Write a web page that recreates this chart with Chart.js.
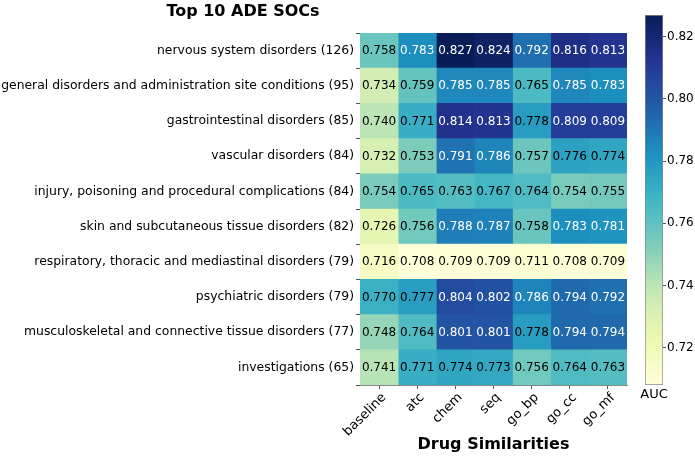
<!DOCTYPE html>
<html><head><meta charset="utf-8">
<script src="https://cdn.jsdelivr.net/npm/chart.js@4"></script>
<style>
html,body{margin:0;padding:0;background:#fff;}
#wrap{position:relative;width:695px;height:456px;}
#main{position:absolute;left:0;top:0;}
#cbar{position:absolute;left:630px;top:0;}
</style></head><body>
<div id="wrap">
<canvas id="main" width="695" height="456"></canvas>
<canvas id="cbar" width="65" height="456"></canvas>
</div>
<script>
const rows = [
  "nervous system disorders (126)",
  "general disorders and administration site conditions (95)",
  "gastrointestinal disorders (85)",
  "vascular disorders (84)",
  "injury, poisoning and procedural complications (84)",
  "skin and subcutaneous tissue disorders (82)",
  "respiratory, thoracic and mediastinal disorders (79)",
  "psychiatric disorders (79)",
  "musculoskeletal and connective tissue disorders (77)",
  "investigations (65)"
];
const columns = ["baseline","atc","chem","seq","go_bp","go_cc","go_mf"];
const baseline = [0.758,0.734,0.740,0.732,0.754,0.726,0.716,0.770,0.748,0.741];
const atc      = [0.783,0.759,0.771,0.753,0.765,0.756,0.708,0.777,0.764,0.771];
const chem     = [0.827,0.785,0.814,0.791,0.763,0.788,0.709,0.804,0.801,0.774];
const seq      = [0.824,0.785,0.813,0.786,0.767,0.787,0.709,0.802,0.801,0.773];
const go_bp    = [0.792,0.765,0.778,0.757,0.764,0.758,0.711,0.786,0.778,0.756];
const go_cc    = [0.816,0.785,0.809,0.776,0.754,0.783,0.708,0.794,0.794,0.764];
const go_mf    = [0.813,0.783,0.809,0.774,0.755,0.781,0.709,0.792,0.794,0.763];
const colorbarTicks = [0.72,0.74,0.76,0.78,0.80,0.82];

const series = [baseline, atc, chem, seq, go_bp, go_cc, go_mf];
const allVals = series.flat();
const vmin = Math.min(...allVals), vmax = Math.max(...allVals);

const YLGNBU = ["#ffffd9","#edf8b1","#c7e9b4","#7fcdbb","#41b6c4","#1d91c0","#225ea8","#253494","#081d58"];
function hex2rgb(h){return [parseInt(h.substr(1,2),16),parseInt(h.substr(3,2),16),parseInt(h.substr(5,2),16)];}
const STOPS = YLGNBU.map(hex2rgb);
function cmap(v){
  let t = (v - vmin)/(vmax - vmin); t = Math.max(0, Math.min(1, t));
  const p = t*(STOPS.length-1); const i = Math.min(Math.floor(p), STOPS.length-2); const f = p - i;
  const a = STOPS[i], b = STOPS[i+1];
  return `rgb(${Math.round(a[0]+(b[0]-a[0])*f)},${Math.round(a[1]+(b[1]-a[1])*f)},${Math.round(a[2]+(b[2]-a[2])*f)})`;
}

const FONT = "'DejaVu Sans', sans-serif";
Chart.defaults.font.family = FONT;
Chart.defaults.color = "#000";

const cellText = {
  id: 'cellText',
  afterDatasetsDraw(chart){
    const ctx = chart.ctx;
    ctx.save();
    ctx.font = "12px " + FONT;
    ctx.textAlign = 'center'; ctx.textBaseline = 'middle';
    chart.data.datasets.forEach((ds, di) => {
      const meta = chart.getDatasetMeta(di);
      meta.data.forEach((el, ri) => {
        const v = series[di][ri];
        const t = (v - vmin)/(vmax - vmin);
        ctx.fillStyle = t > 0.6 ? '#fff' : '#000';
        const c = el.getCenterPoint();
        ctx.fillText(v.toFixed(3), c.x, c.y + 0.5);
      });
    });
    ctx.font = "bold 16px " + FONT;
    ctx.fillStyle = '#000';
    ctx.fillText("Top 10 ADE SOCs", 243, 12);
    ctx.restore();
  }
};

new Chart(document.getElementById('main'), {
  type: 'bar',
  data: {
    labels: rows,
    datasets: series.map((s, i) => ({
      label: columns[i],
      data: s.map(() => 1),
      backgroundColor: s.map(cmap),
      borderWidth: 0,
      barPercentage: 1,
      categoryPercentage: 1
    }))
  },
  options: {
    indexAxis: 'y',
    responsive: false,
    animation: false,
    layout: { padding: { top: 33, right: 68, left: 0, bottom: 0 } },
    plugins: { legend: { display: false }, tooltip: { enabled: false } },
    scales: {
      x: {
        type: 'linear', stacked: true, min: 0, max: columns.length,
        afterBuildTicks(scale){ scale.ticks = columns.map((c, i) => ({ value: i + 0.5 })); },
        afterFit(scale){ scale.height = 71; },
        ticks: {
          autoSkip: false, maxRotation: 45, minRotation: 45, padding: 1, labelOffset: 5,
          font: { size: 13 }, color: '#000',
          callback: (v, i) => columns[i]
        },
        grid: { drawOnChartArea: false, tickLength: 4, color: '#555' },
        border: { display: true, color: '#888' },
        title: { display: true, text: 'Drug Similarities', font: { size: 16, weight: 'bold' }, color: '#000', padding: { top: 2, bottom: 2 } }
      },
      y: {
        stacked: true,
        afterFit(scale){ scale.width = 360; },
        ticks: { autoSkip: false, font: { size: 12.4 }, color: '#000', padding: 2 },
        grid: { drawOnChartArea: false, tickLength: 4, color: '#555' },
        border: { display: true, color: '#888' }
      }
    }
  },
  plugins: [cellText]
});

new Chart(document.getElementById('cbar'), {
  type: 'bar',
  data: {
    labels: ['AUC'],
    datasets: [{
      data: [[vmin, vmax]],
      barPercentage: 1, categoryPercentage: 1,
      borderColor: '#888', borderWidth: 1, borderSkipped: false,
      backgroundColor(context){
        const chart = context.chart; const area = chart.chartArea;
        if (!area) return '#fff';
        const y = chart.scales.y;
        const g = chart.ctx.createLinearGradient(0, y.getPixelForValue(vmin), 0, y.getPixelForValue(vmax));
        YLGNBU.forEach((c, i) => g.addColorStop(i/(YLGNBU.length-1), c));
        return g;
      }
    }]
  },
  options: {
    responsive: false,
    animation: false,
    layout: { padding: { top: 15, left: 15, right: 0, bottom: 0 } },
    plugins: { legend: { display: false }, tooltip: { enabled: false } },
    scales: {
      x: {
        afterFit(scale){ scale.height = 71; },
        ticks: { font: { size: 13 }, color: '#000', padding: -6 },
        grid: { display: false },
        border: { display: false }
      },
      y: {
        position: 'right', min: vmin, max: vmax,
        afterBuildTicks(scale){ scale.ticks = colorbarTicks.map(v => ({ value: v })); },
        afterFit(scale){ scale.width = 32; },
        ticks: { font: { size: 12 }, color: '#000', padding: 1, callback: v => v.toFixed(2) },
        grid: { drawOnChartArea: false, tickLength: 3, color: '#555' },
        border: { display: false }
      }
    }
  }
});
</script>
</body></html>
